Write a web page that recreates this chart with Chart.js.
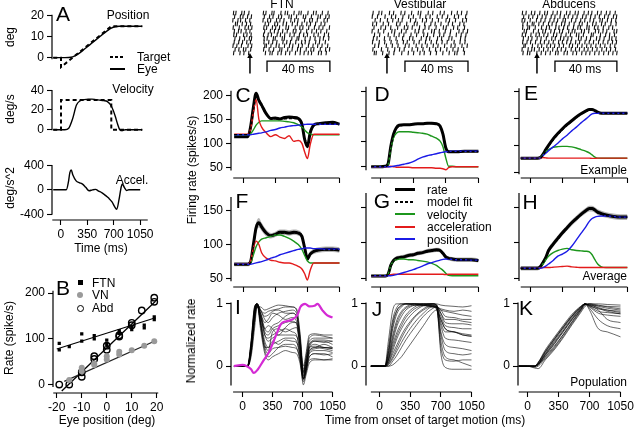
<!DOCTYPE html>
<html><head><meta charset="utf-8">
<script src="https://cdn.jsdelivr.net/npm/chart.js@4.4.0/dist/chart.umd.min.js"></script>
<style>
html,body{margin:0;padding:0;background:#fff;width:640px;height:427px;overflow:hidden;position:relative}
canvas{position:absolute}
.t{position:absolute;white-space:nowrap;line-height:1;font-family:'Liberation Sans',Arial,sans-serif;color:#000}
.sw{position:absolute}
</style></head><body>
<script>
// ---------------- DATA ----------------
// Panel A: target and eye kinematics (time in ms)
const tPosTgt = [-100, 0, 0, 650, 1050];
const posTgt  = [0, 0, -4.5, 15, 15];
const tPosEye = [-100,0,50,100,150,200,250,300,350,400,450,500,550,600,650,700,750,800,900,1050];
const posEye  = [0,0,0,0.05,0.35,1.2,2.5,4.0,5.5,7.0,8.5,10.0,11.5,12.9,14.1,14.8,15.0,15.0,15.0,15.0];
const tVelTgt = [-100, 0, 0, 650, 650, 1050];
const velTgt  = [0, 0, 30, 30, 0, 0];
const tVelEye = [-100,0,50,100,150,200,250,300,350,400,450,500,550,600,650,700,730,760,790,830,900,1050];
const velEye  = [0,0,0,1.5,11,25,29.5,30.5,31,31,30.5,30,29.5,28.5,24,14,6,0,-1,0,0,0];
const tAcc = [-100,0,50,73,100,120,138,160,203,250,288,330,374,420,460,500,546,590,633,680,710,740,770,800,815,840,870,900,1050];
const accEye = [0,0,0,0,120,280,323,240,145,115,92,40,-15,0,8,-20,-50,-90,-135,-200,-270,-318,-160,50,95,40,-10,0,0];
const timeTicks = [0, 350, 700, 1050];

// Panel B: rate vs eye position
const ftnX = [-19,-19,-15,-10,-10,-5,-5,0,0,5,5,10,10,15,15,19,19];
const ftnY = [90,76,83,111,95,107,100,97,88,118,112,120,125,130,124,148,142];
const vnX  = [-15,-10,-10,-5,-5,0,0,5,5,10,15,19];
const vnY  = [10,37,29,43,46,62,55,66,72,75,85,95];
const abdX = [-19,-15,-10,-10,-5,-5,0,0,5,5,10,10,14,19,19];
const abdY = [0,0,27,17,62,56,76,85,108,105,135,130,162,190,181];
const ftnFitX = [-20, 19.5], ftnFitY = [78, 146];
const vnFitX  = [-17, 19.5], vnFitY  = [7, 96];
const abdFitX = [-18, 19.5], abdFitY = [-14, 182];
const eyeTicks = [-20, -10, 0, 10, 20];

// Panels C-H: firing rate and model components
const T = [-100,0,50,80,110,140,170,200,250,300,350,400,450,500,550,600,640,670,700,730,770,820,900,975,1050];
const rateC = [114,114,114,135,175,205,190,180,162,152,153,151,154,155,154,152,140,108,93,122,138,141,143,144,140];
const fitC  = [118,118,118,130,168,200,193,178,161,153,151,150,151,152,152,150,140,113,97,120,137,140,141,141,140];
const velC  = [118,118,118,120,128,138,144,147,147,147,147,147,146,145,143,139,134,128,122,119,118,118,118,118,118];
const accC  = [119,119,119,130,165,192,150,134,122,114,118,113,110,116,104,106,100,82,68,97,119,119,119,119,119];
const posC  = [118,118,118,118,119,120,121,122,124,127,129,132,134,136,137,138,139,139.5,140,140,140,140,140,140,140];

const rateD = [50,50,51,55,90,115,128,133,134,134,135,136,136,137,137,136,131,115,88,80,80,80,81,81,81];
const fitD  = [50,50,50,54,86,112,126,131,133,134,135,135,136,136,136,135,130,117,90,81,80,80,80,80,80];
const velD  = [50,50,50,53,85,108,117,120,120,120,119,118,117,115,111,107,101,90,68,51,51,50,50,50,50];
const accD  = [50,50,50,50,51,50,49,49,49,49,48,48,48,48,48,47,47,46,44,48,50,50,50,50,50];
const posD  = [50,50,50,50,50,51,52,53,55,57,60,65,69,72,74,76,78,79,80,80.5,81,81,81,81,81];

const rateE = [76,76,76,76,77,83,92,100,112,122,131,139,146,153,159,164,167,167,165,162,160,160,160,160,160];
const fitE  = [76,76,76,76,76,81,89,98,110,120,129,137,145,152,158,163,166,166,164,161,160,160,160,160,160];
const velE  = [76,76,76,76,77,82,88,92,96,97.5,98,98,97,95,92,89,86,82,78,76,75.7,75.7,75.7,75.7,75.7];
const accE  = [76,76,76,76,76,77,76.5,76,76,76,76,76,76,76,76,76,76,75.5,75.5,76,76,76,76,76,76];
const posE  = [76,76,76,76,76,81,85,90,97,104,112,119,127,134,142,149,155,159,160,160,160,160,160,160,160];

const rateF = [71,71,71,75,100,125,132,126,117,113,115,118,118,117,118,117,112,95,79,86,90,92,93,93,92];
const semF  = [3,3,3,3,5,7,7,6,5,4,4,4,4,4,4,4,4,5,5,4,4,4,4,4,4];
const fitF  = [71,71,71,74,97,123,131,125,117,114,115,117,117,117,117,116,111,96,80,85,89,91,92,92,92];
const velF  = [71,71,71,73,85,97,104,108,110,112,114,114,112,109,105,100,93,84,76,73,73,73,73,73,73];
const accF  = [71,71,71,76,95,105,100,88,80,77,76,74,73,73,71,68,64,57,48,62,73,73,73,73,73];
const posF  = [71,71,71,71,72,73,74,75,77,80,82,85,87,89,91,93,94,95,95,95,94,94,93,93,93];

const rateG = [53,53,53,55,68,75,78,79,80,82,83,85,86,88,89,90,89,85,80,78,77,76,76,76,75];
const semG  = [2,2,2,2,3,3,3,3,3,3,3,3,3,3,3,3,3,3,3,3,3,3,3,3,3];
const fitG  = [53.5,53.5,53.5,55,67,74,77,79,80,81,83,85,86,87,89,89,88,85,81,78,77,76,76,75.5,75.5];
const velG  = [53.5,53.5,53.5,55,68,74,76,77,77,76,76,75,74,73,71,68,64,61,57,54,53.5,53.5,53.5,53.5,53.5];
const accG  = [53.5,53.5,53.5,54,55,55.5,55.5,55.5,55.5,55.5,55.5,55.5,55.5,55.5,55.5,55.5,55.5,55.5,55,55.5,55.5,55.5,55.5,55.5,55.5];
const posG  = [53.5,53.5,53.5,53.5,53.5,54,55,56,58,60,62,64.5,67,70,72,74,75.5,76.5,77,77,76.5,76,76,75.5,75.5];

const rateH = [64,64,64,64,66,72,79,89,98,106,114,121,128,134,140,145,148,148,146,143,141,139,137,136,136];
const semH  = [3,3,3,3,3,4,4,4,4,4,4,4,4,4,4,4,4,4,4,4,4,4,4,4,4];
const fitH  = [64,64,64,64,65,71,78,88,97,105,113,120,127,133,139,144,147,147,145,142,140,138,137,136,136];
const velH  = [64,64,64,64,65,70,76,81,86,89,91,92,90,89,88.5,88,87,83,76,70,66,65,65,65,65];
const accH  = [64,64,64,64,64.5,65,65,65,65.5,66,66.5,67,66,65.5,65,65,65,65,65,65,65,65,65,65,65];
const posH  = [64,64,64,64,64,65,67,70,75,81,84,88,95,104,113,122,130,134,136,137,137.5,137.5,137,136,136];

// Panel I: FTN population (normalized)
const tI = [-100,0,60,100,140,170,210,260,300,350,420,500,580,630,670,710,740,780,850,950,1050];
const i01 = [0,0,0,0.3,0.8,1.0,0.7,0.25,0.15,0.2,0.3,0.35,0.35,0.3,0.1,-0.2,-0.1,0.15,0.2,0.2,0.15];
const i02 = [0,0,0,0.35,0.9,1.0,0.8,0.5,0.45,0.5,0.55,0.6,0.55,0.5,0.2,-0.15,0.0,0.3,0.4,0.4,0.35];
const i03 = [0,0,0.02,0.4,0.95,1.0,0.9,0.85,0.88,0.9,0.92,0.95,0.95,0.9,0.5,-0.1,0.1,0.4,0.45,0.45,0.45];
const i04 = [0,0,0,0.2,0.7,0.98,0.85,0.6,0.55,0.65,0.7,0.8,0.85,0.8,0.4,-0.2,-0.05,0.3,0.35,0.3,0.3];
const i05 = [0,0,0,0.25,0.75,1.0,0.6,0.2,0.1,0.15,0.2,0.25,0.22,0.2,0.05,-0.25,-0.1,0.1,0.12,0.1,0.1];
const i06 = [0,0,0,0.3,0.85,1.0,0.75,0.4,0.3,0.35,0.4,0.45,0.45,0.4,0.15,-0.2,-0.05,0.2,0.25,0.25,0.22];
const i07 = [0,0,0,0.4,0.95,1.0,0.9,0.75,0.7,0.78,0.85,0.88,0.9,0.85,0.45,-0.05,0.15,0.45,0.5,0.48,0.45];
const i08 = [0,0,0,0.15,0.6,0.95,0.95,0.9,0.92,0.95,0.98,0.97,0.95,0.92,0.55,0.0,0.2,0.5,0.52,0.5,0.5];
const i09 = [0,0,0,0.3,0.85,1.0,0.7,0.35,0.25,0.55,0.6,0.55,0.6,0.62,0.3,-0.15,0.0,0.25,0.3,0.35,0.3];
const i10 = [0,0,0,0.35,0.9,1.0,0.8,0.6,0.65,0.6,0.5,0.62,0.7,0.7,0.35,-0.1,0.05,0.35,0.4,0.38,0.4];
const i11 = [0,0,0,0.25,0.8,1.0,0.65,0.3,0.3,0.4,0.35,0.42,0.4,0.38,0.2,-0.2,-0.05,0.15,0.2,0.18,0.2];
const i12 = [0,0,0,0.3,0.85,0.95,0.85,0.7,0.75,0.85,0.82,0.75,0.78,0.72,0.35,-0.12,0.05,0.3,0.32,0.3,0.28];
const i13 = [0,0,0,0.2,0.7,0.97,0.8,0.5,0.4,0.45,0.5,0.5,0.5,0.48,0.25,-0.18,0.0,0.22,0.28,0.3,0.28];
const i14 = [0,0,0,0.35,0.92,1.0,0.85,0.55,0.5,0.6,0.65,0.7,0.72,0.68,0.3,-0.22,-0.08,0.25,0.3,0.28,0.25];
const i15 = [0,0,0,0.3,0.9,1.0,0.7,0.3,0.2,0.28,0.3,0.32,0.3,0.28,0.12,-0.3,-0.15,0.05,0.1,0.1,0.12];
const i16 = [0,0,0,0.25,0.8,1.0,0.9,0.8,0.82,0.88,0.9,0.85,0.85,0.8,0.45,-0.08,0.1,0.35,0.42,0.42,0.4];
const tM = [-100,0,50,100,130,180,240,310,380,450,510,565,640,675,730,780,840,875,930,985,1050];
const magI = [0,0.02,0,-0.05,-0.11,-0.05,0.08,0.23,0.46,0.68,0.72,0.74,0.82,0.95,1.0,0.96,0.97,1.0,0.9,0.82,0.78];

// Panel J: vestibular population
const tJ = [-100,0,60,100,150,200,250,300,400,500,600,650,700,750,850,950,1050];
const j01 = [0,0,0,0.4,0.9,1.0,1.0,1.0,1.0,1.0,1.0,1.0,0.98,0.97,0.96,0.95,0.97];
const j02 = [0,0,0,0.3,0.75,0.95,1.0,1.0,1.0,0.98,0.97,0.95,0.9,0.8,0.78,0.75,0.75];
const j03 = [0,0,0,0.2,0.6,0.85,0.95,1.0,1.0,0.98,0.95,0.92,0.75,0.6,0.55,0.52,0.5];
const j04 = [0,0,0,0.15,0.5,0.75,0.88,0.95,1.0,1.0,0.98,0.95,0.85,0.7,0.68,0.68,0.66];
const j05 = [0,0,0,0.1,0.4,0.65,0.8,0.9,0.98,1.0,1.0,0.98,0.55,0.35,0.3,0.28,0.25];
const j06 = [0,0,0,0.1,0.35,0.55,0.7,0.82,0.95,1.0,1.0,0.97,0.4,0.15,0.1,0.05,0.0];
const j07 = [0,0,0,0.05,0.25,0.45,0.6,0.72,0.88,0.97,1.0,0.98,0.85,0.75,0.75,0.72,0.7];
const j08 = [0,0,0,0.05,0.2,0.35,0.5,0.62,0.8,0.92,0.98,0.95,0.65,0.45,0.42,0.4,0.38];
const j09 = [0,0,0,0.02,0.12,0.25,0.38,0.5,0.7,0.85,0.95,0.95,0.9,0.88,0.85,0.82,0.8];
const j10 = [0,0,0,0.03,0.15,0.3,0.45,0.58,0.78,0.9,0.96,0.94,0.3,0.1,0.08,0.1,0.1];
const j11 = [0,0,0,0.2,0.65,0.9,0.97,1.0,0.98,0.97,0.96,0.95,0.92,0.9,0.88,0.9,0.88];
const j12 = [0,0,0,0.08,0.3,0.5,0.65,0.78,0.92,0.98,1.0,0.99,0.7,0.55,0.55,0.5,0.48];
const j13 = [0,0,0,0.12,0.45,0.7,0.85,0.93,0.98,0.98,0.96,0.92,0.5,0.25,0.2,0.18,0.2];
const j14 = [0,0,0,0.0,0.08,0.18,0.3,0.42,0.62,0.8,0.92,0.95,0.8,0.65,0.62,0.6,0.6];
const j15 = [0,0,0,0,0.02,0.08,0.15,0.25,0.45,0.65,0.85,0.9,0.75,0.6,0.55,0.5,0.48];
const j16 = [0,0,0,0.25,0.7,0.9,0.98,1.0,1.0,0.99,0.98,0.97,0.2,-0.02,-0.05,-0.05,-0.05];

// Panel K: abducens population
const tK = [-100,0,80,120,200,300,400,500,600,650,700,800,900,1050];
const k01 = [0,0,0,0.04,0.22,0.42,0.62,0.8,0.95,1.0,0.98,0.97,0.96,0.95];
const k02 = [0,0,0,0.02,0.15,0.32,0.5,0.7,0.9,1.0,0.97,0.92,0.9,0.88];
const k03 = [0,0,0,0.06,0.26,0.46,0.65,0.83,0.96,1.0,0.95,0.85,0.82,0.8];
const k04 = [0,0,-0.02,0.0,0.12,0.28,0.47,0.68,0.88,0.98,1.0,0.98,0.95,0.92];
const k05 = [0,0,0,0.03,0.19,0.38,0.56,0.76,0.93,1.0,0.93,0.75,0.65,0.6];
const k06 = [0,0,0,0.05,0.24,0.44,0.63,0.81,0.95,1.0,0.9,0.6,0.55,0.47];
const k07 = [0,0,0,0.03,0.17,0.35,0.54,0.74,0.91,0.99,1.0,0.96,0.93,0.9];
const k08 = [0,0,-0.03,-0.04,0.1,0.26,0.45,0.66,0.86,0.96,1.0,1.0,0.99,0.98];
const k09 = [0,0,0,0.04,0.2,0.4,0.59,0.78,0.94,1.0,0.96,0.88,0.86,0.84];
const k10 = [0,0,0,0.06,0.23,0.43,0.61,0.8,0.95,1.0,0.97,0.9,0.75,0.7];
const k11 = [0,0,0,0.03,0.18,0.36,0.56,0.75,0.92,1.0,0.98,0.94,0.9,0.86];
const k12 = [0,0,0,0.02,0.14,0.3,0.5,0.71,0.9,0.99,0.99,0.93,0.88,0.84];

// Rasters: spike times (ms from target onset), one array per trial row
const ftnSpikes = [
 [-10.4,-8.9,-5.2,-3.6,-0.7,8.5,10.1,13.9,15.2,19.6,22.3,23.8,27.9,31.0,32.4,36.7,40.2,41.9,45.8,49.4],
 [-9.7,-6.1,-4.4,-1.5,0.9,9.1,12.4,14.6,18.1,20.0,24.7,26.2,29.5,33.8,35.3,38.9,43.1,44.6,48.0,50.1],
 [-10.8,-7.6,-5.9,-2.8,-0.1,8.3,11.2,13.1,16.8,19.0,21.5,25.9,28.3,30.4,34.6,37.8,39.5,42.6,46.9,49.0],
 [-9.2,-8.0,-4.9,-2.2,0.4,9.6,11.8,15.7,17.5,21.0,23.1,26.8,30.0,32.9,36.0,38.3,41.5,45.0,47.4],
 [-10.6,-6.8,-3.1,-1.0,1.2,8.8,10.6,14.2,16.3,18.7,22.8,24.4,28.6,31.6,33.5,37.2,40.8,43.7,46.2,50.3],
 [-9.9,-7.3,-5.6,-2.5,0.0,9.3,12.9,15.5,17.9,20.7,23.6,27.4,29.1,32.2,35.9,39.2,42.1,44.9,48.6],
 [-10.2,-8.5,-4.0,-1.9,0.7,8.6,11.5,13.6,17.2,19.3,22.0,25.3,28.0,31.3,34.0,36.4,40.5,43.2,47.1,49.7],
 [-9.5,-6.5,-3.4,-0.4,1.0,9.0,10.9,14.8,16.0,20.4,21.8,26.5,29.8,30.9,34.9,38.1,41.2,44.3,46.5,49.9],
 [-10.0,-7.1,-4.7,-2.0,0.3,8.9,11.9,14.4,17.0,20.9,23.3,25.6,29.0,32.7,35.0,37.5,41.6,44.0,47.7],
 [-10.7,-8.3,-5.4,-1.2,1.1,9.4,10.4,13.3,16.6,18.4,21.9,25.0,27.1,30.7,33.1,37.0,39.9,42.9,45.6,49.2],
 [-9.4,-7.0,-4.1,-2.6,0.5,8.7,12.1,15.0,18.9,20.2,23.9,26.7,30.1,32.0,35.6,38.6,40.4,44.5,47.9,50.4],
 [-10.3,-6.3,-3.8,-0.8,9.8,12.7,14.1,17.7,19.8,22.6,25.2,28.8,31.8,34.3,36.9,39.0,43.4,45.2,48.3]
];
const vesSpikes = [
 [-8.8,-5.1,-3.3,1.6,4.2,8.9,11.3,15.6,19.8,21.4,26.1,29.0,33.7,36.2,40.9,44.5,47.2,50.6],
 [-9.3,-6.0,-1.2,2.9,5.5,10.1,13.8,16.7,21.0,24.6,27.3,31.8,35.0,38.4,42.7,45.3,49.8],
 [-7.5,-4.2,0.3,3.7,7.2,9.6,14.9,18.2,22.5,25.0,28.7,32.6,37.4,39.6,43.4,47.9,50.3],
 [-9.0,-6.6,-2.4,1.0,6.1,8.3,12.5,17.3,19.1,23.9,27.8,30.5,34.2,38.8,41.5,46.1,48.7],
 [-8.2,-3.8,-0.9,2.4,6.8,11.0,13.2,16.0,20.6,24.1,26.6,31.1,35.7,37.5,42.2,44.8,49.1],
 [-9.4,-5.5,-2.0,3.1,5.0,9.2,12.1,17.8,20.1,22.9,28.3,30.0,33.1,36.9,40.3,45.6,48.2,51.0],
 [-7.9,-4.6,0.8,4.6,7.7,10.7,15.2,18.8,23.3,25.7,29.6,33.4,36.0,39.9,43.9,47.0,50.0],
 [-8.6,-6.3,-1.6,1.9,5.8,9.9,14.3,16.4,21.7,24.9,27.1,32.0,34.6,39.2,41.1,46.6,49.5],
 [-9.1,-4.9,-1.4,2.6,6.4,10.4,12.8,17.1,20.4,24.4,28.0,31.4,34.9,38.1,42.5,46.3,49.4],
 [-7.7,-5.3,-0.4,3.4,7.0,11.6,14.0,18.5,22.1,25.4,29.3,32.3,36.5,40.6,43.1,47.5,50.8],
 [-8.9,-3.5,0.5,4.9,8.0,10.9,15.9,19.4,22.8,26.9,30.8,33.9,37.9,41.8,45.0,48.5],
 [-8.0,-6.8,-2.7,1.3,4.4,9.4,13.5,16.9,20.9,23.6,27.6,31.3,35.4,39.4,42.9,44.4,49.0]
];
const abdSpikes = [
 [-9.2,-6.9,-3.5,-1.4,1.8,4.9,6.6,10.1,12.8,15.0,18.7,20.9,24.2,26.1,29.8,32.5,34.7,38.3,40.6,43.9,46.2,49.5],
 [-8.4,-5.2,-2.6,0.4,3.3,5.7,9.0,11.4,14.6,17.3,19.8,22.7,25.4,28.9,31.1,34.0,36.8,39.5,42.8,45.1,48.4,50.4],
 [-9.4,-7.7,-4.3,-0.3,2.5,5.1,8.2,10.8,13.1,16.5,18.0,21.9,24.6,27.7,30.3,33.6,35.9,39.9,41.4,44.6,47.2,49.9],
 [-8.9,-6.1,-3.0,-1.9,1.2,4.0,7.3,9.6,12.2,15.6,17.6,20.4,23.5,26.8,28.6,31.9,35.3,37.4,40.9,43.2,46.8,50.1],
 [-9.0,-5.8,-4.7,-1.1,2.9,6.0,7.9,11.9,13.9,16.9,19.4,23.1,25.9,27.5,31.6,33.0,36.4,38.6,42.0,45.5,47.9],
 [-8.1,-6.6,-2.2,0.9,3.7,5.4,8.8,11.1,14.3,16.2,20.1,22.3,24.0,28.2,30.0,32.8,37.0,39.1,41.8,44.2,48.8,50.5],
 [-9.3,-7.2,-3.8,-0.6,1.5,4.4,6.9,10.5,12.5,15.3,18.4,21.2,25.0,26.5,29.4,34.4,35.6,40.2,43.5,46.0,49.1],
 [-8.6,-5.5,-3.2,0.1,2.6,5.9,9.4,11.6,14.9,17.0,19.6,22.0,26.3,28.0,31.3,33.9,37.7,39.8,42.5,45.8,47.4,50.0],
 [-9.0,-6.3,-4.0,-0.9,2.2,4.7,7.5,10.3,13.7,16.1,18.9,21.4,24.5,27.0,30.4,33.1,35.8,39.0,41.9,44.9,47.8,50.3],
 [-8.3,-7.4,-2.9,0.6,3.0,6.3,8.6,11.2,14.1,16.8,20.5,22.5,25.7,28.5,31.5,34.2,37.3,40.1,43.0,46.4,49.3],
 [-9.4,-5.6,-3.3,-1.6,1.4,4.2,7.0,10.0,12.9,15.4,18.2,21.7,24.4,26.9,29.9,32.3,35.1,38.0,41.1,44.0,46.6,49.7],
 [-8.8,-6.0,-4.5,-0.1,2.7,5.5,8.4,11.8,13.4,17.2,19.2,22.8,25.1,28.4,31.0,33.5,36.6,39.3,42.3,45.3,48.1,50.6]
];
const ftnBar = [10.8, 50.6], vesBar = [11.4, 51.3], abdBar = [11.4, 50.6];
const targetOnset = 0;

// ---------------- RENDERING ----------------
Chart.defaults.font.family = "'Liberation Sans', Arial, sans-serif";
Chart.defaults.font.size = 12;
Chart.defaults.color = '#000';

Chart.register({
  id: 'spines', defaults: {},
  afterDraw(chart, args, opts) {
    const c = chart.ctx, ca = chart.chartArea;
    c.save(); c.strokeStyle = '#000'; c.lineWidth = 1.2;
    if (opts.y) { const s = chart.scales.y; c.beginPath();
      c.moveTo(ca.left, s.getPixelForValue(opts.y[0])); c.lineTo(ca.left, s.getPixelForValue(opts.y[1])); c.stroke(); }
    if (opts.x) { const s = chart.scales.x; c.beginPath();
      c.moveTo(s.getPixelForValue(opts.x[0]), ca.bottom); c.lineTo(s.getPixelForValue(opts.x[1]), ca.bottom); c.stroke(); }
    c.restore();
  }
});

const GREEN = '#1c961c', RED = '#e31b1b', BLUE = '#1b1be6', MAG = '#d42ad4', BAND = 'rgba(160,160,160,0.8)';
const P = (xs, ys) => xs.map((x, i) => ({x, y: ys[i]}));
const ln = (xs, ys, color, w, ex = {}) => Object.assign({type: 'line', data: P(xs, ys), borderColor: color, borderWidth: w,
  pointRadius: 0, fill: false, cubicInterpolationMode: 'monotone'}, ex);
const straight = {cubicInterpolationMode: 'default', tension: 0};

function mk(box, xr, yr, sets, o = {}) {
  const padL = o.padL ?? 44, padB = o.padB ?? 24, padT = 6, padR = 6;
  const [l, t, r, b] = box;
  const W = r - l + padL + padR, H = b - t + padT + padB;
  const cv = document.createElement('canvas');
  cv.width = W; cv.height = H;
  cv.style.left = (l - padL) + 'px'; cv.style.top = (t - padT) + 'px';
  cv.style.width = W + 'px'; cv.style.height = H + 'px';
  document.body.appendChild(cv);
  const xt = o.xt || [], yt = o.yt || [];
  new Chart(cv, {type: 'line', data: {datasets: sets}, options: {
    responsive: false, animation: false, events: [], devicePixelRatio: 1,
    layout: {padding: {top: padT, right: padR, left: 0, bottom: 0}, autoPadding: false},
    plugins: {legend: {display: false}, tooltip: {enabled: false}, spines: {x: o.xs, y: o.ys}},
    scales: {
      x: {type: 'linear', min: xr[0], max: xr[1],
        afterFit: s => { s.height = padB; },
        afterBuildTicks: s => { s.ticks = xt.map(v => ({value: v})); },
        ticks: {display: !!o.xl, autoSkip: false, maxRotation: 0, padding: 2, color: '#000', font: {size: 12}, callback: v => String(v)},
        grid: {display: xt.length > 0, drawOnChartArea: false, drawTicks: true, tickLength: 5, tickColor: '#000', tickWidth: 1.1},
        border: {display: false}},
      y: {type: 'linear', min: yr[0], max: yr[1], reverse: !!o.yrev,
        afterFit: s => { s.width = padL; },
        afterBuildTicks: s => { s.ticks = yt.map(v => ({value: v})); },
        ticks: {display: !!o.yl, autoSkip: false, padding: 3, color: '#000', font: {size: 12}, callback: v => String(v)},
        grid: {display: yt.length > 0, drawOnChartArea: false, drawTicks: true, tickLength: 5, tickColor: '#000', tickWidth: 1.1},
        border: {display: false}}
    }}});
}

function txt(s, x, y, o = {}) {
  const d = document.createElement('div'); d.className = 't'; d.textContent = s;
  d.style.left = x + 'px'; d.style.top = y + 'px'; d.style.fontSize = (o.size || 12) + 'px';
  const ax = o.ax ?? -50;
  d.style.transform = `translate(${ax}%,-50%)` + (o.rot ? ' rotate(-90deg)' : '');
  document.body.appendChild(d);
}
function swatch(x, y, w, h, color, dashed) {
  const d = document.createElement('div'); d.className = 'sw';
  d.style.left = x + 'px'; d.style.top = y + 'px'; d.style.width = w + 'px'; d.style.height = h + 'px';
  d.style.background = dashed ? `repeating-linear-gradient(90deg, ${color} 0 3px, transparent 3px 5px)` : color;
  document.body.appendChild(d);
}

// Panel A
mk([52, 6, 150, 80], [-116, 1150], [-5.8, 22.7], [
  ln(tPosTgt, posTgt, '#000', 2, Object.assign({borderDash: [4, 3]}, straight)),
  ln(tPosEye, posEye, '#000', 1.4)
], {yt: [0, 10, 20], yl: true, ys: [-0.7, 20.5], padB: 0});
mk([52, 82, 150, 142], [-116, 1150], [-2.1, 44.1], [
  ln(tVelTgt, velTgt, '#000', 2, Object.assign({borderDash: [4, 3]}, straight)),
  ln(tVelEye, velEye, '#000', 1.4)
], {yt: [0, 20, 40], yl: true, ys: [-0.5, 40.3], padB: 0});
mk([52, 156, 150, 220], [-116, 1150], [-491, 482], [
  ln(tAcc, accEye, '#000', 1.4)
], {yt: [-400, 0, 400], yl: true, ys: [-405, 405], xt: timeTicks, xl: true, xs: [-112, 1150]});

// Panel B
mk([53, 278, 162, 393], [-21.5, 22.1], [-18.3, 223.8], [
  ln(ftnX, ftnY, '#000', 0, {showLine: false, pointRadius: 2.3, pointStyle: 'rect', pointBackgroundColor: '#000', pointBorderColor: '#000', pointBorderWidth: 0}),
  ln(vnX, vnY, '#999', 0, {showLine: false, pointRadius: 3, pointStyle: 'circle', pointBackgroundColor: '#9a9a9a', pointBorderColor: '#9a9a9a', pointBorderWidth: 0}),
  ln(abdX, abdY, '#000', 0, {showLine: false, pointRadius: 3.2, pointStyle: 'circle', pointBackgroundColor: 'rgba(255,255,255,0)', pointBorderColor: '#000', pointBorderWidth: 1.4}),
  ln(ftnFitX, ftnFitY, '#000', 1.1, straight),
  ln(vnFitX, vnFitY, '#222', 1.2, straight),
  ln(abdFitX, abdFitY, '#000', 1.3, straight)
], {yt: [0, 100, 200], yl: true, ys: [-5, 205], xt: eyeTicks, xl: true, xs: [-21.4, 20.6]});

// Panels C-H
function compSets(rate, fit, vel, acc, pos, sem) {
  const s = [
    ln(T, fit, '#000', 1.3, {borderDash: [3, 2]}),
    ln(T, pos, BLUE, 1.4),
    ln(T, acc, RED, 1.4),
    ln(T, vel, GREEN, 1.4),
    ln(T, rate, '#000', 3)
  ];
  if (sem) {
    s.push(ln(T, rate.map((v, i) => v + sem[i]), 'rgba(0,0,0,0)', 0, {fill: '+1', backgroundColor: BAND}));
    s.push(ln(T, rate.map((v, i) => v - sem[i]), 'rgba(0,0,0,0)', 0));
  }
  return s;
}
const xC = [-134.3, 1077.5], xD = [-155.6, 1078.3], xE = [-118.7, 1078.7];
const y1 = [27.4, 215.4], y1E = [38.8, 214.8], y2 = [37.6, 177.0], y3 = [-0.415, 1.123];
mk([231, 84, 342, 178], xC, y1, compSets(rateC, fitC, velC, accC, posC), {yt: [50, 100, 150, 200], yl: true, ys: [43, 210], xt: timeTicks, xs: [-110, 1050]});
mk([366, 84, 481, 178], xD, y1, compSets(rateD, fitD, velD, accD, posD), {yt: [50, 100, 150, 200], ys: [43, 210], xt: timeTicks, xs: [-100, 1050]});
mk([519, 84, 630, 178], xE, y1E, compSets(rateE, fitE, velE, accE, posE), {yt: [50, 100, 150, 200], ys: [46, 207], xt: timeTicks, xs: [-100, 1050]});
mk([231, 188, 342, 287], xC, y2, compSets(rateF, fitF, velF, accF, posF, semF), {yt: [50, 100, 150], yl: true, ys: [46, 170], xt: timeTicks, xs: [-110, 1050]});
mk([366, 188, 481, 287], xD, y2, compSets(rateG, fitG, velG, accG, posG, semG), {yt: [50, 100, 150], ys: [46, 170], xt: timeTicks, xs: [-100, 1050]});
mk([519, 188, 630, 287], xE, y2, compSets(rateH, fitH, velH, accH, posH, semH), {yt: [50, 100, 150], ys: [46, 170], xt: timeTicks, xs: [-100, 1050]});

// Panels I-K
const thin = (tx, tr) => tr.map(v => ln(tx, v, 'rgba(0,0,0,0.85)', 0.7));
mk([231, 292, 342, 392], xC, y3, [ln(tM, magI, MAG, 2.2)].concat(thin(tI, [i01,i02,i03,i04,i05,i06,i07,i08,i09,i10,i11,i12,i13,i14,i15,i16])),
  {yt: [0, 1], yl: true, ys: [-0.31, 1.02], xt: timeTicks, xl: true, xs: [-110, 1050]});
mk([366, 292, 481, 392], xD, y3, thin(tJ, [j01,j02,j03,j04,j05,j06,j07,j08,j09,j10,j11,j12,j13,j14,j15,j16]),
  {yt: [0, 1], yl: true, ys: [-0.31, 1.02], xt: timeTicks, xl: true, xs: [-100, 1050]});
mk([518, 292, 630, 392], [-108, 1078.7], y3, thin(tK, [k01,k02,k03,k04,k05,k06,k07,k08,k09,k10,k11,k12]),
  {yt: [0, 1], yl: true, ys: [-0.31, 1.02], xt: timeTicks, xl: true, xs: [-100, 1050]});

// Rasters (rows 0..11 top to bottom; arrow and 40 ms bracket below)
function rasterSets(rows, bar) {
  const s = [];
  s.push(ln([targetOnset, targetOnset], [16.6, 11.9], '#000', 1.5, Object.assign({pointRadius: [0, 3.2], pointStyle: 'triangle', pointBackgroundColor: '#000', pointBorderColor: '#000', pointBorderWidth: 0}, straight)));
  s.push(ln([bar[0], bar[0], bar[1], bar[1]], [16.2, 13.2, 13.2, 16.2], '#000', 1.3, straight));
  rows.forEach((r, i) => s.push(ln(r, r.map(() => i), '#000', 0, {showLine: false, pointRadius: 2.3, pointStyle: 'line', pointRotation: -84, pointBorderColor: '#111', pointBorderWidth: 1.1})));
  return s;
}
const rY = [-1.92, 17.86];
mk([225, 6, 340, 78], [-15.8, 57], rY, rasterSets(ftnSpikes, ftnBar), {padL: 0, padB: 0, yrev: true});
mk([365, 6, 480, 78], [-13.9, 58.9], rY, rasterSets(vesSpikes, vesBar), {padL: 0, padB: 0, yrev: true});
mk([515, 6, 630, 78], [-13.9, 58.9], rY, rasterSets(abdSpikes, abdBar), {padL: 0, padB: 0, yrev: true});

// ---------------- TEXT ----------------
const L = 21;
txt('A', 63, 13, {size: L}); txt('B', 63, 287, {size: L});
txt('C', 243, 94, {size: L}); txt('D', 382, 93, {size: L}); txt('E', 531, 92, {size: L});
txt('F', 242, 200, {size: L}); txt('G', 382, 200, {size: L}); txt('H', 530, 201, {size: L});
txt('I', 238, 306, {size: L}); txt('J', 377, 308, {size: L}); txt('K', 526, 307, {size: L});

txt('Position', 128, 15); txt('Velocity', 133, 89); txt('Accel.', 132, 180);
swatch(110, 56, 15, 2, '#000', true); txt('Target', 137, 57, {ax: 0});
swatch(110, 68, 15, 2, '#000', false); txt('Eye', 137, 69, {ax: 0});
txt('deg', 10, 37, {rot: true}); txt('deg/s', 10, 109, {rot: true}); txt('deg/s^2', 10, 188, {rot: true});
txt('Time (ms)', 101, 248);

// B legend
(function () {
  const mkr = (x, y, css) => { const d = document.createElement('div'); d.style.cssText = 'position:absolute;box-sizing:border-box;' + css;
    d.style.left = x + 'px'; d.style.top = y + 'px'; document.body.appendChild(d); };
  mkr(77.5, 280, 'width:5px;height:5px;background:#000');
  mkr(77, 292, 'width:6px;height:6px;border-radius:50%;background:#9a9a9a');
  mkr(76.5, 305, 'width:7px;height:7px;border-radius:50%;border:1.4px solid #000');
})();
txt('FTN', 92, 283, {ax: 0}); txt('VN', 92, 295, {ax: 0}); txt('Abd', 92, 308, {ax: 0});
txt('Rate (spike/s)', 9, 338, {rot: true});
txt('Eye position (deg)', 107, 420);

txt('FTN', 282, 4); txt('Vestibular', 420, 4); txt('Abducens', 569, 4);
txt('40 ms', 298, 69); txt('40 ms', 437, 69); txt('40 ms', 585, 69);

txt('Firing rate (spikes/s)', 192, 170, {rot: true});
txt('Normalized rate', 191, 341, {rot: true});
txt('Time from onset of target motion (ms)', 425, 420);

swatch(395, 188, 20, 3, '#000', false); txt('rate', 427, 190, {ax: 0});
swatch(395, 201, 20, 2, '#000', true); txt('model fit', 427, 202, {ax: 0});
swatch(395, 213, 20, 2, GREEN, false); txt('velocity', 427, 214.5, {ax: 0});
swatch(395, 226, 20, 2, RED, false); txt('acceleration', 427, 227, {ax: 0});
swatch(395, 238, 20, 2, BLUE, false); txt('position', 427, 239.5, {ax: 0});

txt('Example', 627, 170, {ax: -100}); txt('Average', 627, 276, {ax: -100}); txt('Population', 627, 382, {ax: -100});
</script>
</body></html>
